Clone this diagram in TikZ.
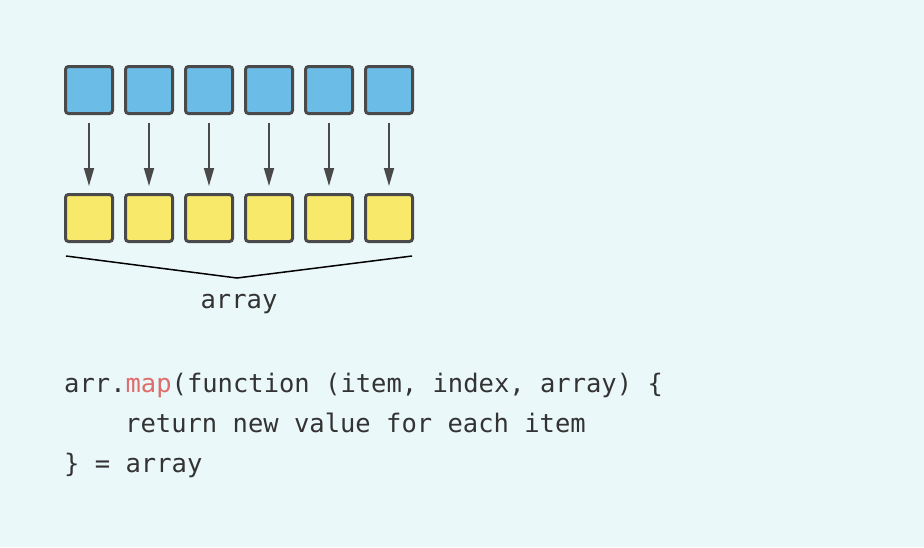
\documentclass[tikz,border=0pt]{standalone}
\usepackage{fontspec}
\newfontfamily\codefont{DejaVu Sans Mono}
\usetikzlibrary{arrows.meta}
\definecolor{bg}{HTML}{EBF8F9}
\definecolor{bluebox}{HTML}{6BBDE8}
\definecolor{yellowbox}{HTML}{F9E96B}
\definecolor{edge}{HTML}{4A4A4A}
\definecolor{codetxt}{HTML}{333333}
\definecolor{kw}{HTML}{E06C6C}
\tikzset{
  cell/.style={draw=edge, line width=3pt, rounded corners=3pt, minimum width=47pt, minimum height=47pt, inner sep=0pt},
  src/.style={cell, fill=bluebox},
  dst/.style={cell, fill=yellowbox},
  maparrow/.style={draw=edge, line width=1.6pt, -{Triangle[length=18pt,width=10pt]}, shorten >=7pt, shorten <=8pt},
  brace/.style={draw=black, line width=1.5pt},
  code/.style={font=\codefont\fontsize{25.5}{30}\selectfont, text=codetxt, inner sep=0pt, anchor=base west},
}
\begin{document}
\begin{tikzpicture}[x=1pt,y=-1pt]
\fill[bg] (0,0) rectangle (924,547);
\useasboundingbox (0,0) rectangle (924,547);
\foreach \i in {1,...,6} {
  \node[src] (s\i) at ({89+60*(\i-1)},90) {};
  \node[dst] (d\i) at ({89+60*(\i-1)},218) {};
  \draw[maparrow] (s\i.south) -- (d\i.north);
}
\coordinate (bl) at (66,256);
\coordinate (bm) at (237,278);
\coordinate (br) at (412,256);
\draw[brace] (bl) -- (bm) -- (br);
\node[code, anchor=base] (lbl) at (239,308) {array};
\node[code] (c1) at (64,392) {arr.\textcolor{kw}{map}(function (item, index, array) \{};
\node[code] (c2) at (125,432) {return new value for each item};
\node[code] (c3) at (64,472) {\} = array};
\end{tikzpicture}
\end{document}
